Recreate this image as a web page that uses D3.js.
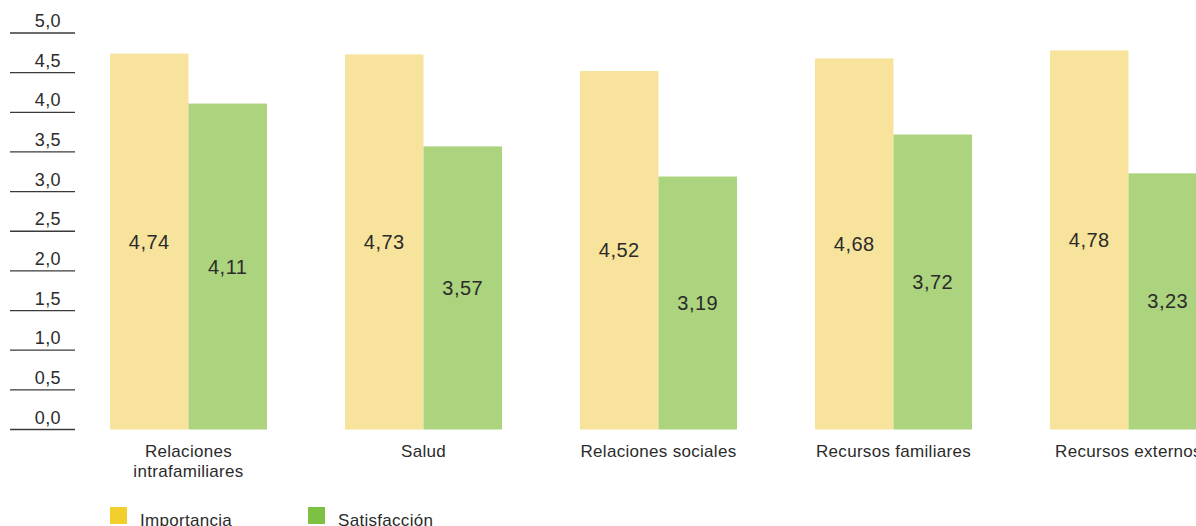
<!DOCTYPE html>
<html>
<head>
<meta charset="utf-8">
<script src="https://cdn.jsdelivr.net/npm/d3@7"></script>
<style>
  html, body { margin: 0; padding: 0; background: #fff; }
  svg { display: block; }
  text { font-family: "Liberation Sans", Arial, Helvetica, sans-serif; fill: #2b2b2b; }
</style>
</head>
<body>
<svg id="chart" width="1196" height="526"></svg>
<script>
// Categories (multi-line labels split on "\n")
const categories = [
  "Relaciones\nintrafamiliares",
  "Salud",
  "Relaciones sociales",
  "Recursos familiares",
  "Recursos externos"
];
const importancia = [4.74, 4.73, 4.52, 4.68, 4.78];
const satisfaccion = [4.11, 3.57, 3.19, 3.72, 3.23];
const yTicks = [0, 0.5, 1, 1.5, 2, 2.5, 3, 3.5, 4, 4.5, 5];
const seriesNames = ["Importancia", "Satisfacción"];

const barColors = ["#f8e39c", "#acd37e"];
const legendColors = ["#f3cf2e", "#7dc142"];

const svg = d3.select("#chart");
const fmt = v => d3.format(".2f")(v).replace(".", ",");
const fmtTick = v => d3.format(".1f")(v).replace(".", ",");

const y = d3.scaleLinear().domain([0, 5]).range([429.5, 33]);

const x = d3.scaleBand()
  .domain(categories)
  .range([110, 1207])
  .paddingInner(0.332)
  .paddingOuter(0);

const xs = d3.scaleBand()
  .domain(seriesNames)
  .range([0, x.bandwidth()])
  .padding(0);

// Y axis: labels sitting above short horizontal rules
const axis = svg.append("g").attr("class", "y-axis");
const tick = axis.selectAll("g").data(yTicks).join("g")
  .attr("transform", d => `translate(0,${y(d)})`);
tick.append("line")
  .attr("x1", 10).attr("x2", 75)
  .attr("stroke", "#3a3a3a").attr("stroke-width", 1.3);
tick.append("text")
  .attr("x", 61).attr("y", -6)
  .attr("text-anchor", "end")
  .style("font-size", "18px")
  .style("letter-spacing", "0.4px")
  .text(d => fmtTick(d));

// Bars
const rows = categories.map((c, i) => ({
  cat: c,
  vals: [
    { s: seriesNames[0], v: importancia[i], k: 0 },
    { s: seriesNames[1], v: satisfaccion[i], k: 1 }
  ]
}));

const groups = svg.append("g").selectAll("g").data(rows).join("g")
  .attr("transform", d => `translate(${x(d.cat)},0)`);

groups.selectAll("rect").data(d => d.vals).join("rect")
  .attr("x", d => xs(d.s))
  .attr("y", d => y(d.v))
  .attr("width", xs.bandwidth())
  .attr("height", d => y(0) - y(d.v))
  .attr("fill", d => barColors[d.k]);

groups.selectAll("text.val").data(d => d.vals).join("text")
  .attr("class", "val")
  .attr("x", d => xs(d.s) + xs.bandwidth() / 2)
  .attr("y", d => (y(d.v) + y(0)) / 2)
  .attr("dy", "0.35em")
  .attr("text-anchor", "middle")
  .style("font-size", "20px")
  .style("letter-spacing", "0.5px")
  .text(d => fmt(d.v));

// Category labels
const catLabels = svg.append("g").selectAll("text").data(categories).join("text")
  .attr("x", d => x(d) + x.bandwidth() / 2)
  .attr("y", 457)
  .attr("text-anchor", "middle")
  .style("font-size", "17px")
  .style("letter-spacing", "0.3px");
catLabels.selectAll("tspan").data(d => d.split("\n")).join("tspan")
  .attr("x", function () { return d3.select(this.parentNode).attr("x"); })
  .attr("dy", (d, i) => i === 0 ? 0 : 20)
  .text(d => d);

// Legend
const legendX = [110, 308];
const legend = svg.append("g").selectAll("g").data(seriesNames).join("g")
  .attr("transform", (d, i) => `translate(${legendX[i]},507)`);
legend.append("rect")
  .attr("width", 17).attr("height", 17)
  .attr("fill", (d, i) => legendColors[i]);
legend.append("text")
  .attr("x", 30)
  .attr("y", 19)
  .style("font-size", "17px")
  .style("letter-spacing", "0.3px")
  .text(d => d);
</script>
</body>
</html>
